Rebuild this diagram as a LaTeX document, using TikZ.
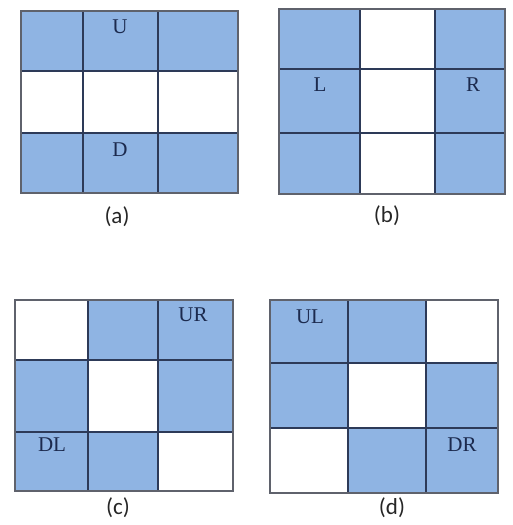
\documentclass[tikz,border=0pt]{standalone}
\usepackage{fontspec}
\setmainfont{Liberation Serif}
\newfontfamily\capfont{Carlito}
\usetikzlibrary{positioning}
\definecolor{cellblue}{RGB}{143,180,227}
\definecolor{gridnavy}{RGB}{45,58,88}
\definecolor{framegray}{RGB}{95,98,108}
\definecolor{letternavy}{RGB}{28,42,78}
\tikzset{
    cell/.style={fill=cellblue},
    innerline/.style={draw=gridnavy, line width=1.3pt},
    frame/.style={draw=framegray, line width=1.6pt},
    dirlabel/.style={font=\fontsize{21}{21}\selectfont, text=letternavy, inner sep=0pt},
    caption/.style={font=\capfont\fontsize{23}{23}\selectfont, text=black!85, inner sep=0pt}
}

\begin{document}
\begin{tikzpicture}[x=1pt, y=-1pt]
    \useasboundingbox (0,0) rectangle (513,525);
    % (a) top and bottom rows
    \fill[cell] (21,11) rectangle (238,71);
    \fill[cell] (21,133) rectangle (238,193);
    \draw[innerline] (83,11) -- (83,193) (158,11) -- (158,193) (21,71) -- (238,71) (21,133) -- (238,133);
    \draw[frame] (21,11) rectangle (238,193);
    \node[dirlabel] (U) at (120,27) {U};
    \node[dirlabel] (D) at (120,150) {D};
    \node[caption] (capa) at (117,217) {(a)};
    % (b) left and right columns
    \fill[cell] (279,9) rectangle (360,194);
    \fill[cell] (435,9) rectangle (505,194);
    \draw[innerline] (360,9) -- (360,194) (435,9) -- (435,194) (279,69) -- (505,69) (279,133) -- (505,133);
    \draw[frame] (279,9) rectangle (505,194);
    \node[dirlabel] (L) at (320,85) {L};
    \node[dirlabel] (R) at (473,85) {R};
    \node[caption] (capb) at (387,216) {(b)};
    % (c) all but the anti-diagonal
    \fill[cell] (88,300) rectangle (233,360);
    \fill[cell] (15,360) rectangle (88,432);
    \fill[cell] (158,360) rectangle (233,432);
    \fill[cell] (15,432) rectangle (158,491);
    \draw[innerline] (88,300) -- (88,491) (158,300) -- (158,491) (15,360) -- (233,360) (15,432) -- (233,432);
    \draw[frame] (15,300) rectangle (233,491);
    \node[dirlabel] (UR) at (193,315) {UR};
    \node[dirlabel] (DL) at (52,445) {DL};
    \node[caption] (capc) at (118,508) {(c)};
    % (d) all but the main diagonal
    \fill[cell] (270,300) rectangle (426,363);
    \fill[cell] (270,363) rectangle (348,428);
    \fill[cell] (426,363) rectangle (498,428);
    \fill[cell] (348,428) rectangle (498,493);
    \draw[innerline] (348,300) -- (348,493) (426,300) -- (426,493) (270,363) -- (498,363) (270,428) -- (498,428);
    \draw[frame] (270,300) rectangle (498,493);
    \node[dirlabel] (UL) at (310,317) {UL};
    \node[dirlabel] (DR) at (462,445) {DR};
    \node[caption] (capd) at (392,508) {(d)};
\end{tikzpicture}
\end{document}
